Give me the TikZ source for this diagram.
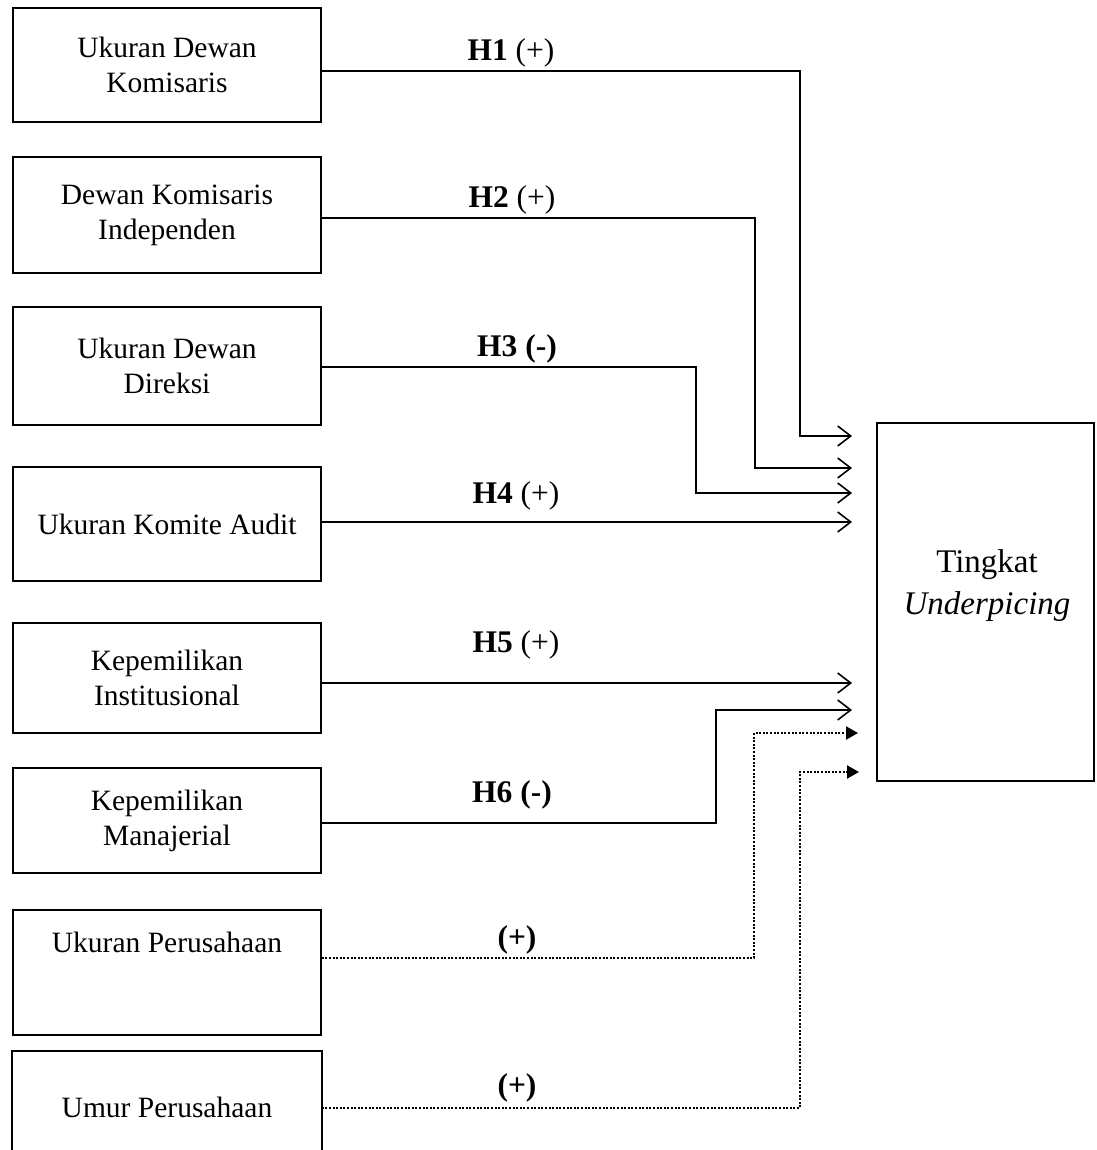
\documentclass[tikz,border=0pt]{standalone}
\usepackage{fontspec}
\setmainfont{Liberation Serif}
\usetikzlibrary{arrows.meta}
\begin{document}
\begin{tikzpicture}[x=1pt,y=-1pt,
  box/.style={draw, line width=1.6pt, align=center, inner sep=0pt, minimum width=308pt, font=\fontsize{29.5}{35}\selectfont},
  txt/.style={align=center, inner sep=0pt, font=\fontsize{29.5}{35}\selectfont},
  lbl/.style={inner sep=0pt, font=\fontsize{31.5}{36}\selectfont},
  conn/.style={line width=1.9pt, -{Straight Barb[length=13pt,width=20pt,line width=1.6pt]}},
  dconn/.style={line width=2.1pt, dash pattern=on 2pt off 1.6pt, -{Triangle[length=12pt,width=13pt]}}]
\useasboundingbox (0,0) rectangle (1096,1150);

% left boxes
\node[box, minimum height=114pt] (b1) at (167,65) {Ukuran Dewan\\Komisaris};
\node[box, minimum height=116pt] (b2) at (167,215) {Dewan Komisaris\\Independen};
\node[box, minimum height=118pt] (b3) at (167,366) {Ukuran Dewan\\Direksi};
\node[box, minimum height=114pt] (b4) at (167,524) {Ukuran Komite Audit};
\node[box, minimum height=110pt] (b5) at (167,678) {Kepemilikan\\Institusional};
\node[box, minimum height=105pt] (b6) at (167,820.5) {Kepemilikan\\Manajerial};
\node[box, minimum height=125pt] (b7) at (167,972.5) {};
\node[txt] (t7) at (167,942) {Ukuran Perusahaan};
\node[box, draw=none, minimum height=98pt] (b8) at (167,1101) {};
\draw[line width=1.6pt] (b8.south west) -- (b8.north west) -- (b8.north east) -- (b8.south east);
\node[txt] (t8) at (167,1107) {Umur Perusahaan};

% target box
\node[draw, line width=1.6pt, minimum width=217pt, minimum height=358pt, inner sep=0pt] (tgt) at (985.5,602) {};
\node[align=center, inner sep=0pt, font=\fontsize{33}{42}\selectfont] (tt) at (987,586) {Tingkat\\\textit{Underpicing}};

% arrow end points
\coordinate (e1) at (852,436);
\coordinate (e2) at (852,468);
\coordinate (e3) at (852,493);
\coordinate (e4) at (852,522);
\coordinate (e5) at (852,683);
\coordinate (e6) at (852,710);
\coordinate (e7) at (858,733);
\coordinate (e8) at (859,772);

% connectors
\draw[conn] ([yshift=-6pt]b1.east) -| ([xshift=-52pt]e1) -- (e1);
\draw[conn] ([yshift=-3pt]b2.east) -| ([xshift=-97pt]e2) -- (e2);
\draw[conn] ([yshift=-1pt]b3.east) -| ([xshift=-156pt]e3) -- (e3);
\draw[conn] ([yshift=2pt]b4.east) -- (e4);
\draw[conn] ([yshift=-5pt]b5.east) -- (e5);
\draw[conn] ([yshift=-2.5pt]b6.east) -| ([xshift=-136pt]e6) -- (e6);
\draw[dconn] ([yshift=14.5pt]b7.east) -| ([xshift=-104pt]e7) -- (e7);
\draw[dconn] ([yshift=-7pt]b8.east) -| ([xshift=-59pt]e8) -- (e8);

% labels
\node[lbl] (l1) at (511,53) {\textbf{H1} (+)};
\node[lbl] (l2) at (512,200) {\textbf{H2} (+)};
\node[lbl] (l3) at (517,349) {\textbf{H3 (-)}};
\node[lbl] (l4) at (516,496) {\textbf{H4} (+)};
\node[lbl] (l5) at (516,645) {\textbf{H5} (+)};
\node[lbl] (l6) at (512,795) {\textbf{H6 (-)}};
\node[lbl] (l7) at (517,940) {\textbf{(+)}};
\node[lbl] (l8) at (517,1088) {\textbf{(+)}};
\end{tikzpicture}
\end{document}
